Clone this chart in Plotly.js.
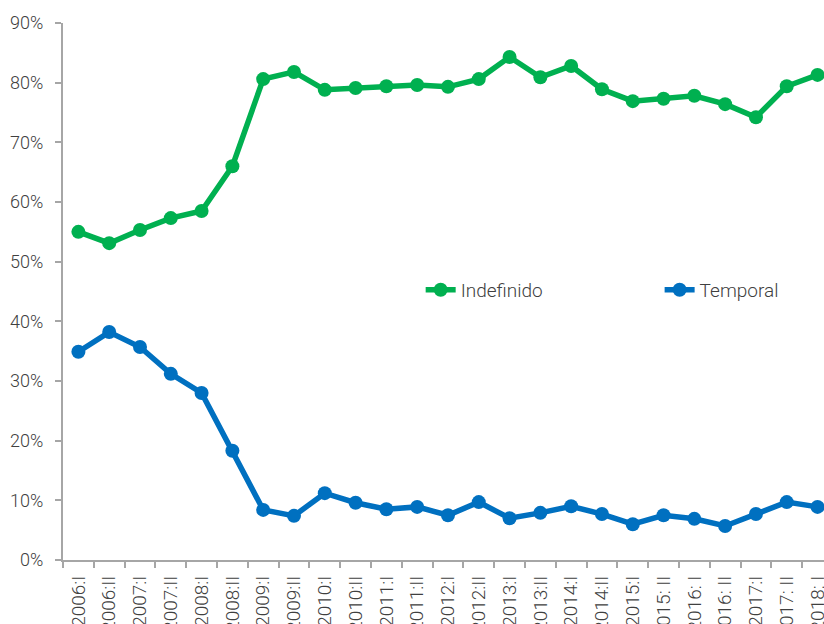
<!DOCTYPE html>
<html>
<head>
<meta charset="utf-8">
<script src="https://cdn.plot.ly/plotly-3.0.1.min.js"></script>
<style>html,body{margin:0;padding:0;background:#fff;overflow:hidden}#chart{width:824px;height:624px}</style>
</head>
<body>
<div id="chart"></div>
<script>
const categories = ["2006:I","2006:II","2007:I","2007:II","2008:I","2008:II","2009:I","2009:II","2010:I","2010:II","2011:I","2011:II","2012:I","2012:II","2013:I","2013:II","2014:I","2014:II","2015:I","2015: II","2016: I","2016: II","2017:I","2017: II","2018: I"];
const indefinido = [55.0,53.1,55.3,57.3,58.5,66.0,80.6,81.8,78.8,79.1,79.4,79.6,79.3,80.6,84.3,80.9,82.8,78.9,76.9,77.3,77.8,76.4,74.2,79.4,81.3];
const temporal = [34.9,38.2,35.7,31.2,28.0,18.3,8.4,7.4,11.2,9.6,8.5,8.9,7.5,9.7,7.0,7.9,9.0,7.7,6.0,7.5,6.9,5.7,7.7,9.7,8.9];
const yTicks = [0,10,20,30,40,50,60,70,80,90];

const traces = [
  {x: categories, y: indefinido, name: "Indefinido", type: "scatter", mode: "lines+markers", legend: "legend",
   line: {color: "#00b050", width: 5.5}, marker: {color: "#00b050", size: 14}, cliponaxis: false},
  {x: categories, y: temporal, name: "Temporal", type: "scatter", mode: "lines+markers", legend: "legend2",
   line: {color: "#0070c0", width: 5.5}, marker: {color: "#0070c0", size: 14}, cliponaxis: false}
];
const legFont = {size: 19, color: "#404040", weight: 300, family: "Roboto, sans-serif"};
const layout = {
  width: 824, height: 624,
  margin: {l: 63, r: 0, t: 23, b: 64},
  paper_bgcolor: "#fff", plot_bgcolor: "#fff",
  font: {family: "Roboto, sans-serif", color: "#404040", size: 15, weight: 300},
  showlegend: true,
  legend: {x: 0.470, y: 0.503, xanchor: "left", yanchor: "middle", font: legFont, bgcolor: "rgba(0,0,0,0)"},
  legend2: {x: 0.784, y: 0.503, xanchor: "left", yanchor: "middle", font: legFont, bgcolor: "rgba(0,0,0,0)"},
  xaxis: {type: "category", range: [-0.5, 24.21], tickangle: -90, tickson: "boundaries",
          ticks: "outside", ticklen: 6, tickwidth: 2, tickcolor: "#a6a6a6",
          showline: true, linecolor: "#a6a6a6", linewidth: 2, showgrid: false, zeroline: false,
          automargin: false, ticklabelstandoff: 6,
          tickfont: {size: 19, color: "#404040", weight: 300}, fixedrange: true},
  yaxis: {range: [0, 90], tickvals: yTicks, ticktext: yTicks.map(v => v + "%"),
          ticks: "outside", ticklen: 6, tickwidth: 2, tickcolor: "#a6a6a6",
          showline: true, linecolor: "#a6a6a6", linewidth: 2, showgrid: false, zeroline: false,
          automargin: false, tickfont: {size: 18, color: "#404040", weight: 300}, ticklabelstandoff: 8}
};
Plotly.newPlot("chart", traces, layout, {displayModeBar: false, staticPlot: true});
</script>
</body>
</html>
